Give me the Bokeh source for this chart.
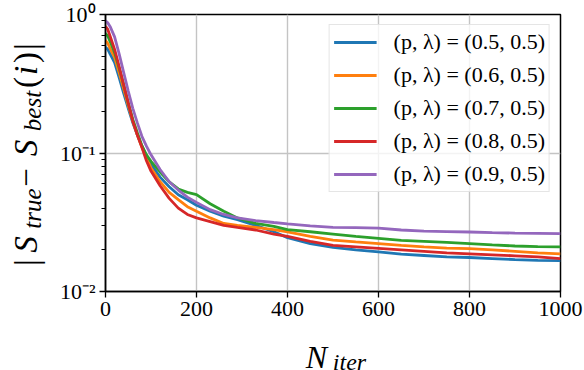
from bokeh.plotting import figure
from bokeh.models import Range1d, FixedTicker, CustomJSTickFormatter, Label
from bokeh.embed import file_html
from bokeh.resources import INLINE

# ---------------- data ----------------
n_iter = [0, 5, 10, 20, 30, 40, 50, 60, 70, 80, 90, 100, 120, 140, 160, 180, 200,
          230, 260, 290, 330, 370, 400, 450, 500, 550, 600, 650, 700, 750, 800,
          850, 900, 950, 1000]

err_p05 = [0.58, 0.56, 0.52, 0.45, 0.35, 0.27, 0.21, 0.165, 0.135, 0.112, 0.095, 0.083,
           0.067, 0.057, 0.050, 0.046, 0.042, 0.038, 0.035, 0.033, 0.030, 0.027, 0.0245,
           0.0222, 0.0208, 0.0200, 0.0193, 0.0186, 0.0182, 0.0178, 0.0176, 0.0173,
           0.0170, 0.0168, 0.0167]
err_p06 = [0.65, 0.62, 0.57, 0.49, 0.38, 0.29, 0.22, 0.17, 0.135, 0.110, 0.092, 0.078,
           0.062, 0.052, 0.046, 0.041, 0.038, 0.034, 0.031, 0.030, 0.029, 0.028, 0.027,
           0.025, 0.0235, 0.0228, 0.0222, 0.0215, 0.0210, 0.0206, 0.0204, 0.0200,
           0.0195, 0.0190, 0.0187]
err_p07 = [0.73, 0.70, 0.64, 0.53, 0.41, 0.31, 0.23, 0.175, 0.140, 0.113, 0.097, 0.087,
           0.073, 0.062, 0.055, 0.052, 0.050, 0.043, 0.038, 0.034, 0.031, 0.0295, 0.028,
           0.027, 0.026, 0.025, 0.0242, 0.0234, 0.0230, 0.0226, 0.0222, 0.0217,
           0.0213, 0.0211, 0.0210]
err_p08 = [0.82, 0.78, 0.70, 0.56, 0.42, 0.31, 0.23, 0.17, 0.135, 0.110, 0.088, 0.074,
           0.058, 0.047, 0.040, 0.036, 0.034, 0.032, 0.030, 0.029, 0.0278, 0.026, 0.025,
           0.023, 0.0215, 0.0210, 0.0205, 0.0200, 0.0195, 0.0190, 0.0187, 0.0184,
           0.0181, 0.0178, 0.0173]
err_p09 = [0.90, 0.87, 0.82, 0.69, 0.52, 0.38, 0.28, 0.21, 0.165, 0.132, 0.112, 0.097,
           0.076, 0.062, 0.054, 0.048, 0.044, 0.039, 0.036, 0.034, 0.0325, 0.0315, 0.0308,
           0.0298, 0.0290, 0.0289, 0.0287, 0.0278, 0.0273, 0.0271, 0.0269, 0.0266,
           0.0264, 0.0263, 0.0262]

series = [err_p05, err_p06, err_p07, err_p08, err_p09]
legend_labels = ["(p, λ) = (0.5, 0.5)", "(p, λ) = (0.6, 0.5)", "(p, λ) = (0.7, 0.5)",
                 "(p, λ) = (0.8, 0.5)", "(p, λ) = (0.9, 0.5)"]
colors = ["#1f77b4", "#ff7f0e", "#2ca02c", "#d62728", "#9467bd"]

x_ticks = [0, 200, 400, 600, 800, 1000]
y_ticks = [0.01, 0.1, 1.0]
y_minor = [0.02, 0.03, 0.04, 0.05, 0.06, 0.07, 0.08, 0.09,
           0.2, 0.3, 0.4, 0.5, 0.6, 0.7, 0.8, 0.9]

# ---------------- main figure ----------------
SERIF = "Liberation Serif"
W, H = 584, 370

p = figure(width=W, height=H, x_range=Range1d(0, 1000), y_range=Range1d(0.01, 1),
           y_axis_type="log", output_backend="svg", toolbar_location=None,
           min_border_left=105, min_border_right=24, min_border_top=14,
           min_border_bottom=79, background_fill_color="white",
           border_fill_color="white")

for ys, lab, col in zip(series, legend_labels, colors):
    p.line(n_iter, ys, line_color=col, line_width=2.8, legend_label=lab)

xt = FixedTicker(ticks=x_ticks)
yt = FixedTicker(ticks=y_ticks, minor_ticks=y_minor)
p.xaxis.ticker = xt
p.yaxis.ticker = yt
p.xgrid.ticker = xt
p.ygrid.ticker = yt
p.yaxis.formatter = CustomJSTickFormatter(code="""
const sup = {'-': '\u207b', '0': '\u2070', '1': '\u00b9', '2': '\u00b2', '3': '\u00b3'};
const e = Math.round(Math.log10(tick));
return '10' + String(e).split('').map(c => sup[c]).join('');
""")

for ax in (p.xaxis[0], p.yaxis[0]):
    ax.axis_line_color = "black"
    ax.axis_line_width = 1.5
    ax.major_tick_line_color = "black"
    ax.major_tick_line_width = 1.3
    ax.major_tick_in = 0
    ax.major_tick_out = 6
    ax.minor_tick_line_color = "black"
    ax.minor_tick_line_width = 1.0
    ax.minor_tick_in = 0
    ax.minor_tick_out = 4
    ax.major_label_text_font = SERIF
    ax.major_label_text_font_size = "22px"
    ax.major_label_text_color = "black"
    ax.major_label_standoff = 4
p.xaxis.minor_tick_line_color = None

p.outline_line_color = "black"
p.outline_line_width = 1.5
p.outline_line_alpha = 1.0

for g in (p.xgrid[0], p.ygrid[0]):
    g.grid_line_color = "#c4c4c4"
    g.grid_line_width = 1.4

lg = p.legend[0]
lg.location = "top_right"
lg.margin = 10
lg.padding = 4
lg.spacing = 7
lg.label_height = 24
lg.glyph_height = 24
lg.glyph_width = 43
lg.label_standoff = 17
lg.label_text_font = SERIF
lg.label_text_font_size = "22px"
lg.label_text_color = "black"
lg.border_line_color = "#cccccc"
lg.border_line_width = 1.2
lg.background_fill_color = "white"
lg.background_fill_alpha = 0.8


# ---------------- axis-title overlays (positioned with CSS) ----------------
def overlay(w, h, css):
    f = figure(width=w, height=h, x_range=Range1d(0, w), y_range=Range1d(0, h),
               x_axis_type=None, y_axis_type=None, output_backend="svg",
               toolbar_location=None, min_border=0, outline_line_color=None,
               background_fill_alpha=0, border_fill_alpha=0)
    f.styles = css
    return f


def lab(f, x, y, text, size, italic):
    f.add_layout(Label(x=x, y=y, text=text, text_font=SERIF,
                       text_font_size=f"{size}px",
                       text_font_style="italic" if italic else "normal",
                       text_color="black", text_align="center",
                       text_baseline="alphabetic"))


# y title |S_true - S_best(i)|: drawn horizontally on a square overlay that CSS
# turns a quarter turn so it reads upward (square => size unaffected by rotation)
S = 290
ystrip = overlay(S, S, {"position": "absolute", "left": "0px", "top": f"{S}px",
                        "transform": "rotate(-90deg)", "transform-origin": "0 0",
                        "z-index": "5", "pointer-events": "none"})
# (text, page y of centre, page x of baseline, size, italic)
ytitle = [("|", 263, 26, 34, False), ("S", 245, 25, 33, True),
          ("true", 209, 32, 25, True), ("\u2212", 178, 25, 33, False),
          ("S", 148.5, 25, 33, True), ("best", 111.5, 32, 25, True),
          ("(", 83, 25, 33, False), ("i", 71, 25, 33, True),
          (")", 58, 25, 33, False), ("|", 47, 26, 34, False)]
for text, py, bx, size, ital in ytitle:
    lab(ystrip, S - py, S - bx, text, size, ital)

# x title N_iter
XT, XH = 324, 46
xstrip = overlay(W, XH, {"position": "absolute", "left": "0px", "top": f"{XT}px",
                         "z-index": "5", "pointer-events": "none"})
lab(xstrip, 316, XT + XH - 356, "N", 32, True)
lab(xstrip, 349, XT + XH - 361, "iter", 24, True)

with open("out.html", "w", encoding="utf-8") as f:
    f.write(file_html([p, ystrip, xstrip], INLINE))
